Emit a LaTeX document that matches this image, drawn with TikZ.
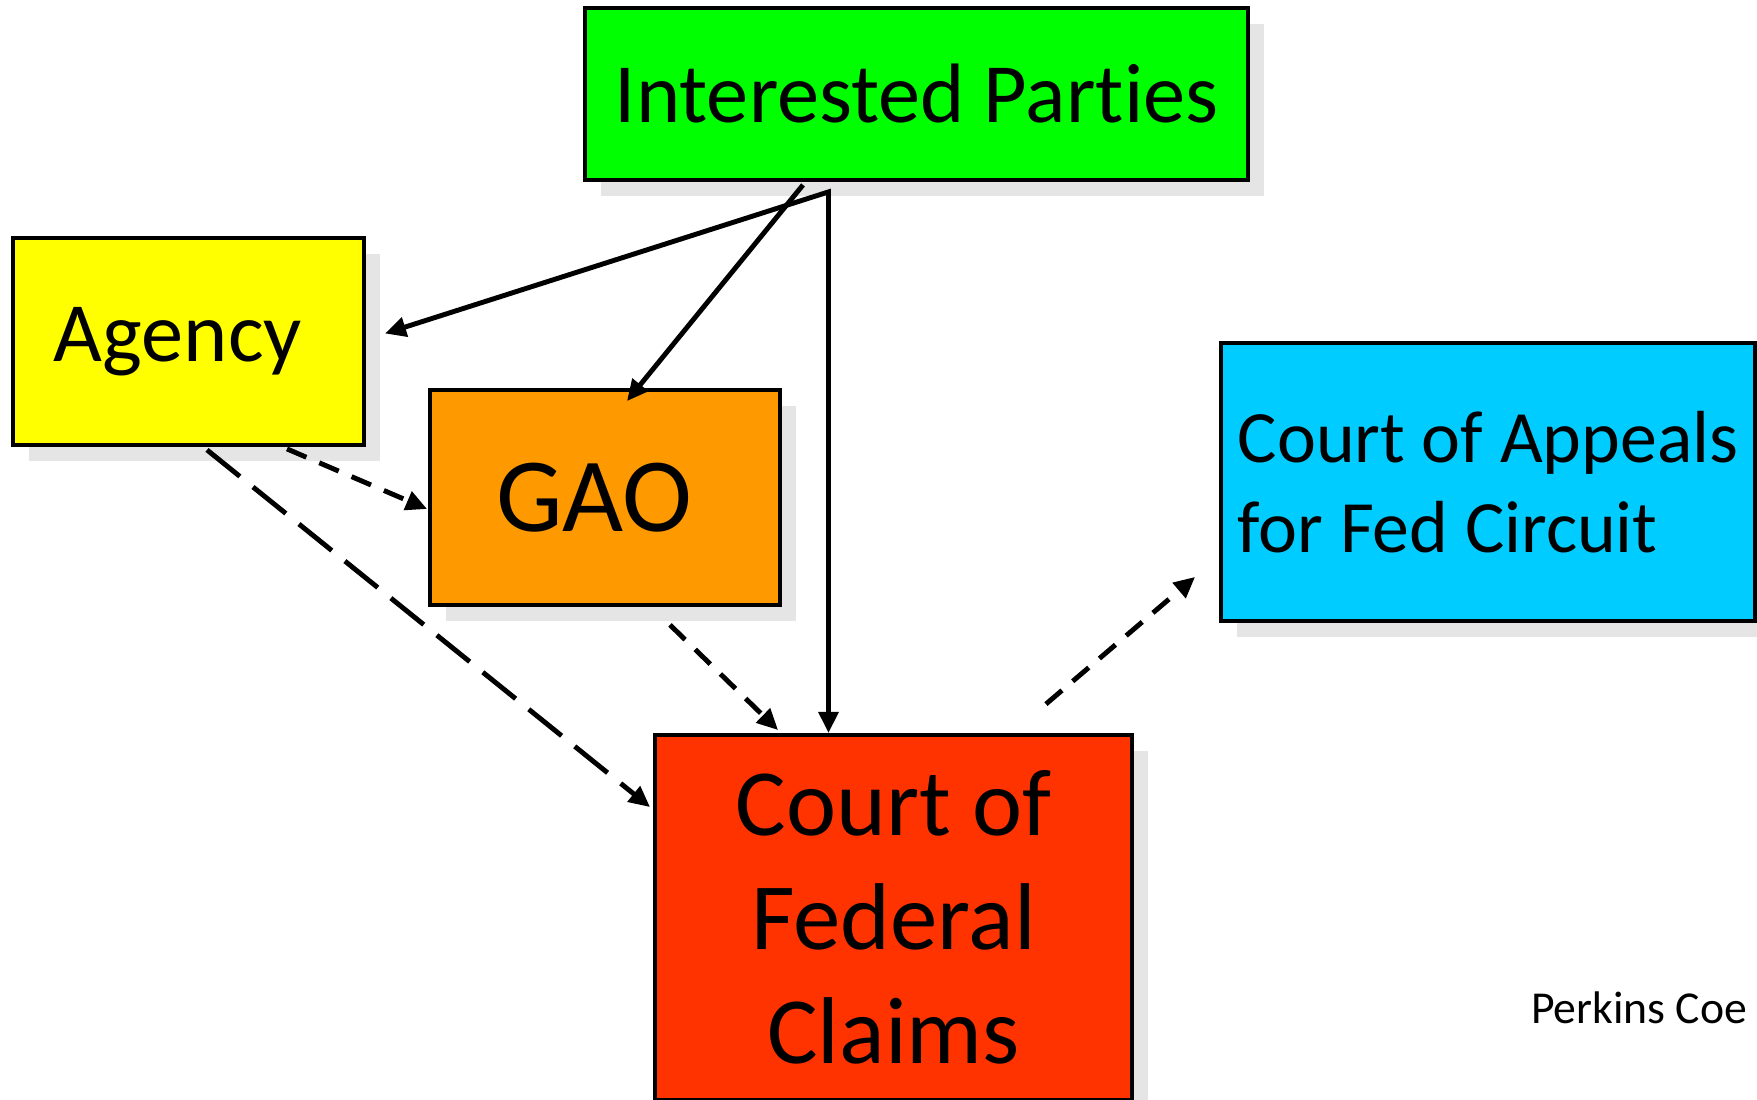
\documentclass[tikz,border=0pt]{standalone}
\usepackage{fontspec}
\setmainfont{Carlito}[Ligatures=NoCommon]
\usepackage{tikz}
\usetikzlibrary{calc}
\usetikzlibrary{arrows.meta}
\usetikzlibrary{shadows}

\definecolor{ipgreen}{HTML}{00FF00}
\definecolor{agyellow}{HTML}{FFFF00}
\definecolor{gaoorange}{HTML}{FF9900}
\definecolor{cafcblue}{HTML}{00CCFF}
\definecolor{cofcred}{HTML}{FF3300}
\definecolor{shadowgray}{HTML}{E5E5E5}

\begin{document}
\begin{tikzpicture}[x=0.1mm, y=-0.1mm,
		box/.style={rectangle, inner sep=0pt, draw=black, line width=1.1pt, align=center,
			drop shadow={shadow xshift=1.6mm, shadow yshift=-1.6mm, fill=shadowgray, opacity=1}},
		arrow/.style={-{Triangle[length=6pt, width=5.5pt]}, line width=1.4pt},
		longdash/.style={arrow, dash pattern=on 12pt off 4.8pt},
		shortdash/.style={arrow, dash pattern=on 6pt off 4pt}]
		
		\useasboundingbox (0,0) rectangle (1757,1100);
		
		\node[box, fill=ipgreen, minimum width=66.3mm, minimum height=17.2mm, font=\fontsize{24pt}{29pt}\selectfont] (ip) at (916.5, 94) {Interested Parties};
		\node[box, fill=agyellow, minimum width=35.1mm, minimum height=20.7mm, font=\fontsize{24pt}{29pt}\selectfont] (agency) at (188.5, 341.5) {Agency\hspace{6pt}};
		\node[box, fill=gaoorange, minimum width=35mm, minimum height=21.5mm, font=\fontsize{30pt}{36pt}\selectfont] (gao) at (605, 497.5) {GAO\hspace{6pt}};
		\node[box, fill=cafcblue, minimum width=53.4mm, minimum height=27.8mm, align=left, font=\fontsize{21pt}{25.6pt}\selectfont] (cafc) at (1488, 482) {Court of Appeals\\for Fed Circuit};
		\node[box, fill=cofcred, minimum width=47.7mm, minimum height=36.5mm, font=\fontsize{27pt}{32.4pt}\selectfont] (cofc) at (893.5, 917.5) {Court of\\Federal\\Claims};
		
		\node[font=\fontsize{13pt}{16pt}\selectfont] (perkins) at (1639, 1008) {Perkins Coe};
		
		% solid arrows from the interested parties
		\coordinate (ipfork) at ($(ip.south)+(-88, 10)$);
		\draw[arrow, {Triangle[length=6pt, width=5.5pt]}-{Triangle[length=6pt, width=5.5pt]}] ($(agency.east)+(19, -8)$) -- (ipfork) -- (ipfork |- cofc.north);
		\draw ($(ip.south)+(-113.5, 3)$) edge[arrow] ($(gao.north)+(22, 13)$);
		
		% dashed arrows
		\draw ($(agency.south)+(98.5, 2)$) edge[shortdash] ($(gao.west)+(-1, 11.5)$);
		\draw ($(agency.south)+(18.5, 3)$) edge[longdash] ($(cofc.north west)+(-3, 74)$);
		\draw ($(gao.south)+(65, 18)$) edge[shortdash] ($(cofc.north west)+(125, -3)$);
		\draw ($(cofc.north east)+(-88, -29)$) edge[shortdash] ($(cafc.south west)+(-24, -46)$);
		
	\end{tikzpicture}
\end{document}
